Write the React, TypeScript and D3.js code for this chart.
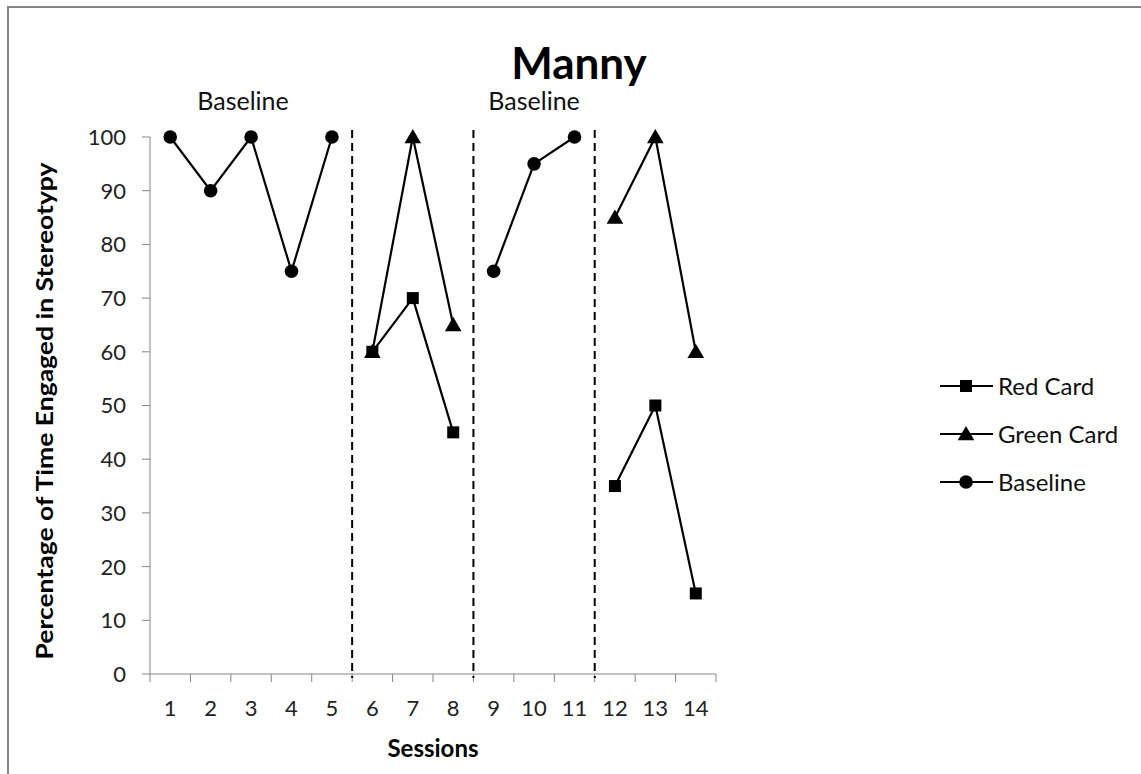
import React from "react";
import * as d3 from "d3";

const sessions = [1, 2, 3, 4, 5, 6, 7, 8, 9, 10, 11, 12, 13, 14];
const yTicks = [0, 10, 20, 30, 40, 50, 60, 70, 80, 90, 100];

// each phase segment: [session, value]
const baselineA: [number, number][] = [[1, 100], [2, 90], [3, 100], [4, 75], [5, 100]];
const baselineB: [number, number][] = [[9, 75], [10, 95], [11, 100]];
const redA: [number, number][] = [[6, 60], [7, 70], [8, 45]];
const redB: [number, number][] = [[12, 35], [13, 50], [14, 15]];
const greenA: [number, number][] = [[6, 60], [7, 100], [8, 65]];
const greenB: [number, number][] = [[12, 85], [13, 100], [14, 60]];
const phaseChanges = [5.5, 8.5, 11.5];
const phaseLabels: [number, string][] = [[2.8, "Baseline"], [10, "Baseline"]];
const legendItems: [string, string][] = [["Red Card", "square"], ["Green Card", "triangle"], ["Baseline", "circle"]];

const FONT = "Lato, 'Open Sans', sans-serif";

function Marker({ type, x, y }: { type: string; x: number; y: number }) {
  if (type === "circle") return <circle cx={x} cy={y} r={6.8} fill="#000" />;
  if (type === "square") return <rect x={x - 6} y={y - 6} width={12} height={12} fill="#000" />;
  const sym = d3.symbol(d3.symbolTriangle, 120)();
  return <path d={sym || ""} transform={`translate(${x},${y + 1.5})`} fill="#000" />;
}

export default function App() {
  const left = 150, right = 716, top = 137, bottom = 674;
  const x = d3.scaleBand<number>().domain(sessions).range([left, right]);
  const y = d3.scaleLinear().domain([0, 100]).range([bottom, top]);
  const cx = (s: number) => (x(s) as number) + x.bandwidth() / 2;
  const xs = (s: number) => left + (s - 0.5) * x.bandwidth();
  const line = d3.line<[number, number]>().x((d) => cx(d[0])).y((d) => y(d[1]));

  const series: [[number, number][], string][] = [
    [baselineA, "circle"], [baselineB, "circle"],
    [greenA, "triangle"], [greenB, "triangle"],
    [redA, "square"], [redB, "square"],
  ];

  const boundaries = d3.range(sessions.length + 1).map((i) => left + i * x.bandwidth());
  const axisColor = "#868686";

  return (
    <svg width={1141} height={774} style={{ position: "absolute", left: 0, top: 0, background: "#fff" }} fontFamily={FONT}>
      <rect x={8} y={7} width={1200} height={800} fill="none" stroke={axisColor} strokeWidth={2} />
      <text x={579} y={79} textAnchor="middle" fontSize={44} fontWeight="bold">Manny</text>

      {/* axes */}
      <line x1={left} x2={left} y1={top} y2={bottom} stroke={axisColor} strokeWidth={1} />
      {yTicks.map((t) => (
        <g key={t}>
          <line x1={left - 8} x2={left} y1={y(t)} y2={y(t)} stroke={axisColor} />
          <text x={left - 24} y={y(t)} dy="0.36em" textAnchor="end" fontSize={22} fill="#222">{t}</text>
        </g>
      ))}
      <line x1={left} x2={right} y1={bottom} y2={bottom} stroke={axisColor} />
      {boundaries.map((b, i) => (
        <line key={i} x1={b} x2={b} y1={bottom} y2={bottom + 8} stroke={axisColor} />
      ))}
      {sessions.map((s) => (
        <text key={s} x={cx(s)} y={716} textAnchor="middle" fontSize={22} fill="#222">{s}</text>
      ))}
      <text x={433} y={757} textAnchor="middle" fontSize={24} fontWeight="bold">Sessions</text>
      <text transform={`translate(53,${411}) rotate(-90)`} textAnchor="middle" fontSize={23} fontWeight="bold"
        textLength={497} lengthAdjust="spacingAndGlyphs">
        Percentage of Time Engaged in Stereotypy
      </text>

      {/* phase change lines */}
      {phaseChanges.map((p) => (
        <line key={p} x1={xs(p)} x2={xs(p)} y1={130} y2={bottom + 4} stroke="#000" strokeWidth={2} strokeDasharray="8,5" />
      ))}
      {phaseLabels.map(([s, l], i) => (
        <text key={i} x={xs(s)} y={110} textAnchor="middle" fontSize={25} fill="#111">{l}</text>
      ))}

      {/* data */}
      {series.map(([data, type], i) => (
        <g key={i}>
          <path d={line(data) || ""} fill="none" stroke="#000" strokeWidth={2.2} />
          {data.map((d, j) => (
            <Marker key={j} type={type} x={cx(d[0])} y={y(d[1])} />
          ))}
        </g>
      ))}

      {/* legend */}
      {legendItems.map(([label, type], i) => {
        const ly = 386 + i * 48;
        return (
          <g key={label}>
            <line x1={940} x2={993} y1={ly} y2={ly} stroke="#000" strokeWidth={2.2} />
            <Marker type={type} x={966} y={ly} />
            <text x={998} y={ly} dy="0.36em" fontSize={24} fill="#111">{label}</text>
          </g>
        );
      })}
    </svg>
  );
}
